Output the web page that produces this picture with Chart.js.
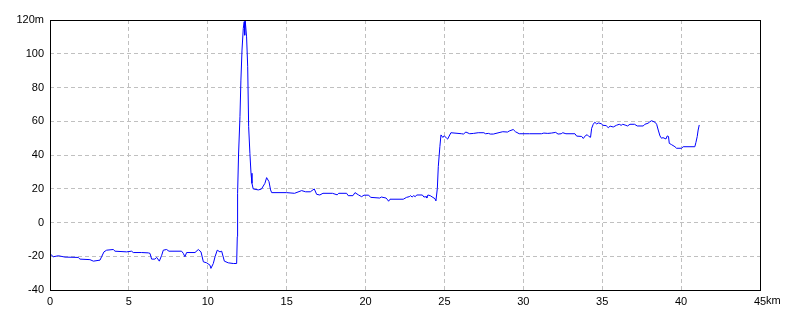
<!DOCTYPE html>
<html>
<head>
<meta charset="utf-8">
<script src="https://cdn.jsdelivr.net/npm/chart.js@4"></script>
<style>
  body { margin: 0; background: #fff; }
</style>
</head>
<body>
<canvas id="profile" width="800" height="320"></canvas>
<script>
// distance (km) and elevation (m)
var dist = [0, 0.21, 0.53, 0.95, 1.79, 1.9, 2.53, 2.75, 3.17, 3.27, 3.42, 3.59, 4.01, 4.12, 4.86, 5.17, 5.28, 5.81, 6.23, 6.34,
  6.44, 6.65, 6.76, 6.93, 7.08, 7.18, 7.39, 7.54, 8.34, 8.45, 8.55, 8.66, 9.19, 9.4, 9.57, 9.72, 9.93, 10.14, 10.2, 10.35,
  10.46, 10.6, 10.77, 10.88, 11.05, 11.3, 11.62, 11.83, 11.87, 11.89, 11.95, 12.04, 12.1, 12.17, 12.25, 12.31, 12.34, 12.37, 12.46, 12.53,
  12.59, 12.67, 12.74, 12.8, 12.88, 13.2, 13.4, 13.62, 13.73, 13.88, 13.98, 14.05, 15.0, 15.5, 15.95, 16.2, 16.5, 16.75, 16.9, 17.1,
  17.3, 17.9, 18.2, 18.3, 18.8, 18.9, 19.2, 19.33, 19.54, 19.75, 19.9, 20.2, 20.32, 20.9, 21.0, 21.3, 21.4, 21.46, 21.55, 22.39,
  22.6, 22.77, 22.85, 22.95, 23.05, 23.15, 23.24, 23.6, 23.7, 23.85, 23.88, 23.95, 24.1, 24.4, 24.46, 24.55, 24.61, 24.71, 24.78, 24.9,
  24.99, 25.14, 25.2, 25.41, 26.09, 26.2, 26.36, 26.6, 26.85, 27.14, 27.5, 27.6, 27.8, 27.9, 28.1, 28.52, 28.7, 29.0, 29.1, 29.36,
  29.5, 29.74, 30.4, 31.15, 31.3, 31.55, 31.78, 32.05, 32.2, 32.4, 32.5, 32.7, 33.27, 33.38, 33.7, 33.8, 33.95, 34.05, 34.15, 34.26,
  34.33, 34.43, 34.53, 34.65, 34.75, 34.93, 35.05, 35.25, 35.38, 35.5, 35.7, 35.9, 36.08, 36.2, 36.3, 36.5, 36.6, 36.76, 37.05, 37.22,
  37.6, 37.7, 37.9, 38.02, 38.13, 38.35, 38.45, 38.55, 38.66, 38.76, 38.85, 39.04, 39.12, 39.2, 39.25, 39.4, 39.61, 39.71, 40.03, 40.13,
  40.87, 40.94, 41.02, 41.08, 41.15];
var elev = [-18.5, -20.3, -19.7, -20.5, -20.7, -21.7, -22, -22.9, -22.3, -20.3, -17.4, -16.4, -16, -17, -17.4, -17, -17.8, -17.8, -18, -18.3,
  -21.7, -21.7, -20.7, -22.9, -19.4, -16.4, -16, -17, -17, -18.3, -20.3, -17.8, -17.8, -16, -17.4, -23.3, -23.9, -25.3, -27.2, -24.3,
  -20.3, -16.4, -17.4, -17, -22.9, -23.9, -24.3, -24.3, -8.4, 17.3, 40, 62.7, 84.4, 102.2, 115, 119, 111, 120, 110, 92.3,
  56.8, 41, 29.2, 23.2, 19.9, 19.3, 19.8, 23.2, 26.6, 24.2, 19.3, 17.7, 17.7, 17.3, 18.9, 18.2, 18.2, 19.9, 16.7, 16.3,
  17.3, 17.3, 16.4, 17.3, 17.3, 15.9, 15.9, 17.7, 16.4, 15.3, 16.2, 16.2, 14.9, 14.5, 15.1, 14.5, 13.4, 12.6, 13.8, 13.8,
  14.9, 15.3, 15.9, 15.1, 15.9, 15.3, 16.3, 16.3, 15.1, 15.3, 14.5, 16.3, 15.9, 14.1, 12.8, 20.3, 33.1, 44.9, 51.9, 50.4,
  51.4, 49.9, 49.4, 53.2, 52.6, 52.4, 53.6, 52.6, 52.8, 53.2, 53.2, 52.6, 52.8, 52.4, 52.4, 53.4, 53.8, 53.6, 54.2, 55.1,
  53.8, 52.6, 52.6, 52.6, 53.0, 52.8, 53.0, 53.4, 52.4, 52.6, 53.2, 52.6, 52.6, 51.2, 51.0, 49.8, 51.6, 52.0, 51.0, 50.5,
  55.8, 58.2, 59.4, 58.4, 59.0, 58.6, 57.6, 57.4, 56.2, 57.1, 56.6, 57.6, 58.2, 57.6, 58.2, 57.6, 57.2, 58.2, 58.2, 57.2,
  57.2, 58.2, 58.8, 59.7, 60.3, 59.4, 58.2, 54.8, 51.3, 49.9, 50.3, 49.5, 51.3, 51.0, 46.9, 46.1, 44.9, 44.0, 44.0, 44.9,
  44.9, 47.5, 50.9, 54.8, 57.8];

var xMin = 0, xMax = 45, xStep = 5;
var yMin = -40, yMax = 120, yStep = 20;

var points = dist.map(function (d, i) { return { x: d, y: elev[i] }; });
var labelFont = { family: 'Liberation Sans', size: 11 };

// black frame round the plot and the "km" unit after the last tick
var framePlugin = {
  id: 'frame',
  afterDraw: function (chart) {
    var a = chart.chartArea, c = chart.ctx;
    c.save();
    c.strokeStyle = '#000';
    c.lineWidth = 1;
    c.strokeRect(Math.round(a.left) + 0.5, Math.round(a.top) + 0.5,
      Math.round(a.right - a.left), Math.round(a.bottom - a.top));
    c.font = '11px "Liberation Sans"';
    c.fillStyle = '#000';
    c.textBaseline = 'top';
    c.textAlign = 'left';
    var xs = chart.scales.x;
    var w = c.measureText(String(xMax)).width;
    c.fillText('km', xs.getPixelForValue(xMax) + w / 2, a.bottom + 5);
    c.restore();
  }
};

new Chart(document.getElementById('profile'), {
  type: 'line',
  data: {
    datasets: [{
      data: points,
      borderColor: '#0000ff',
      borderWidth: 1,
      pointRadius: 0,
      tension: 0,
      fill: false
    }]
  },
  options: {
    responsive: false,
    animation: false,
    layout: { padding: { top: 20, right: 40, left: 0, bottom: 0 } },
    plugins: { legend: { display: false }, tooltip: { enabled: false } },
    scales: {
      x: {
        type: 'linear',
        min: xMin, max: xMax,
        afterFit: function (s) { s.height = 30; },
        grid: { color: '#c0c0c0', drawTicks: false },
        border: { display: false, dash: [4, 3] },
        ticks: {
          stepSize: xStep, padding: 5, color: '#000', font: labelFont, maxRotation: 0,
          callback: function (v) { return v; }
        }
      },
      y: {
        min: yMin, max: yMax,
        afterFit: function (s) { s.width = 50; },
        grid: { color: '#c0c0c0', drawTicks: false },
        border: { display: false, dash: [4, 3] },
        ticks: {
          stepSize: yStep, padding: 6, color: '#000', font: labelFont,
          callback: function (v) { return v === yMax ? v + 'm' : v; }
        }
      }
    }
  },
  plugins: [framePlugin]
});
</script>
</body>
</html>
